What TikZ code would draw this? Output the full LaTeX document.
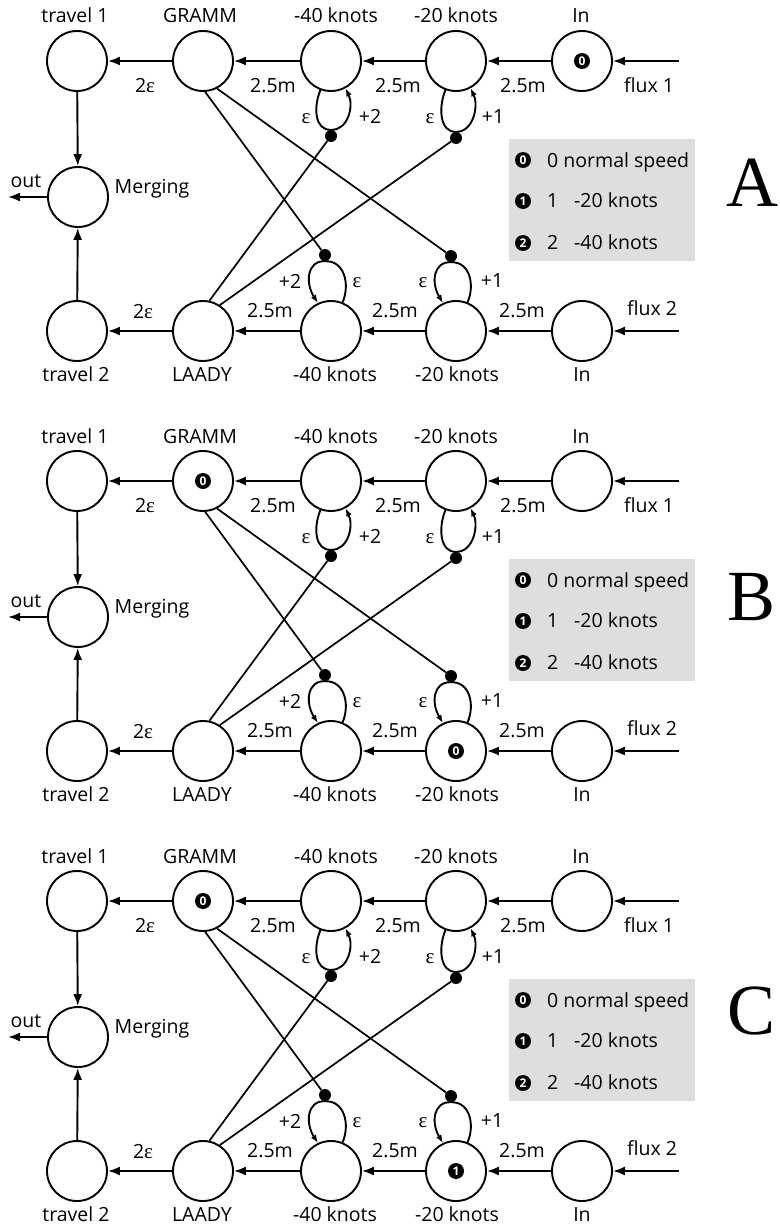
\documentclass[tikz,border=0pt]{standalone}
\usepackage{fontspec}
\setsansfont{Open Sans}
\newfontfamily\grk{Liberation Serif}
\newfontfamily\letterfont{Liberation Serif}
\usetikzlibrary{arrows.meta}
\definecolor{lg}{RGB}{221,222,223}
\newcommand\eps{{\grk\fontsize{21}{21}\selectfont ε}}
\newcommand\panel[3]{%
\begin{scope}[shift={(0,#2)}]
\fill[lg] (509,139) rectangle (695,261);
\node[st] (#1t1) at (77,61) {};
\node[st] (#1gr) at (203,61) {};
\node[st] (#1a40) at (331,61) {};
\node[st] (#1a20) at (456,61) {};
\node[st] (#1in1) at (582,61) {};
\node[st] (#1mg) at (78,197) {};
\node[st] (#1t2) at (77,331) {};
\node[st] (#1la) at (203,331) {};
\node[st] (#1b40) at (331,331) {};
\node[st] (#1b20) at (456,331) {};
\node[st] (#1in2) at (582,331) {};
\coordinate (#1f1) at (679,61);
\coordinate (#1f2) at (679,331);
\coordinate (#1out) at (8,197);
\node[dotn] (#1da) at (331,136) {};
\node[dotn] (#1db) at (456,138) {};
\node[dotn] (#1dc) at (325,255) {};
\node[dotn] (#1dd) at (451,256) {};
% labels
\node[lbl] at (75,23) {travel 1};
\node[lbl] at (200,23) {GRAMM};
\node[lbl] at (336,23) {-40 knots};
\node[lbl] at (456,23) {-20 knots};
\node[lbl] at (581,23) {In};
\node[lbl] at (76,381) {travel 2};
\node[lbl] at (202,381) {LAADY};
\node[lbl] at (335,381) {-40 knots};
\node[lbl] at (457,381) {-20 knots};
\node[lbl] at (582,381) {In};
\node[lbl] at (152,193) {Merging};
\node[lbl] at (26,187) {out};
\node[lbl] at (145,92) {2\eps};
\node[lbl] at (273,92) {2.5m};
\node[lbl] at (398,92) {2.5m};
\node[lbl] at (523,92) {2.5m};
\node[lbl] at (649,92) {flux 1};
\node[lbl] at (143,318) {2\eps};
\node[lbl] at (270,317) {2.5m};
\node[lbl] at (395,317) {2.5m};
\node[lbl] at (522,317) {2.5m};
\node[lbl] at (652,315) {flux 2};
\node[lbl] at (306,123) {\eps};
\node[lbl] at (370,123) {+2};
\node[lbl] at (430,123) {\eps};
\node[lbl] at (493,123) {+1};
\node[lbl] at (290,288) {+2};
\node[lbl] at (357,287) {\eps};
\node[lbl] at (423,287) {\eps};
\node[lbl] at (492,287) {+1};
% row arrows
\draw[arr] (#1f1) -- (#1in1);
\draw[arr] (#1in1) -- (#1a20);
\draw[arr] (#1a20) -- (#1a40);
\draw[arr] (#1a40) -- (#1gr);
\draw[arr] (#1gr) -- (#1t1);
\draw[arr] (#1f2) -- (#1in2);
\draw[arr] (#1in2) -- (#1b20);
\draw[arr] (#1b20) -- (#1b40);
\draw[arr] (#1b40) -- (#1la);
\draw[arr] (#1la) -- (#1t2);
\draw[arr] (#1t1) -- (#1mg);
\draw[arr] (#1t2) -- (#1mg);
\draw[arr] (#1mg) -- (#1out);
% loops
\draw[larr] (#1a40.250) .. controls (313,108) and (315,130.5) .. (#1da.north) .. controls (348,130.5) and (354,106) .. (#1a40.298);
\draw[larr] (#1a20.250) .. controls (438,108) and (440,132.5) .. (#1db.north) .. controls (473,132.5) and (479,106) .. (#1a20.298);
\draw[larr] (#1b40.68) .. controls (350,285) and (345,260.5) .. (#1dc.south) .. controls (307,260.5) and (305,283) .. (#1b40.115);
\draw[larr] (#1b20.68) .. controls (475,285) and (470,261.5) .. (#1dd.south) .. controls (433,261.5) and (431,283) .. (#1b20.115);
% crossing lines
\draw[ln] (#1gr.-86) -- (#1dc);
\draw[ln] (#1gr.-63) -- (#1dd);
\draw[ln] (#1la.78) -- (#1da);
\draw[ln] (#1la.57) -- (#1db);
% legend
\node[badge] (#1k0) at (523,160) {0};
\node[badge] (#1k1) at (523,201) {1};
\node[badge] (#1k2) at (523,243) {2};
\node[lbl,anchor=base west] at (547,167) {0 normal speed};
\node[lbl,anchor=base west] at (547,207) {1};
\node[lbl,anchor=base west] at (574,207) {-20 knots};
\node[lbl,anchor=base west] at (547,249) {2};
\node[lbl,anchor=base west] at (574,249) {-40 knots};
\node[big] (#1L) at (752,#3) {#1};
\end{scope}}
\begin{document}
\begin{tikzpicture}[x=1pt,y=-1pt,
  st/.style={circle,draw,line width=1.9pt,minimum size=60pt,inner sep=0pt},
  lbl/.style={font=\sffamily\fontsize{19.5}{22}\selectfont,inner sep=0pt,anchor=base},
  arr/.style={line width=1.9pt,-{Latex[length=12pt,width=9pt]}},
  larr/.style={line width=1.9pt,-{Latex[length=8pt,width=6pt]}},
  ln/.style={line width=1.7pt},
  dotn/.style={circle,fill=black,inner sep=0pt,minimum size=12pt},
  badge/.style={circle,fill=black,text=white,inner sep=0pt,minimum size=16pt,font=\sffamily\bfseries\fontsize{12}{12}\selectfont},
  big/.style={font=\letterfont\fontsize{72}{72}\selectfont,inner sep=0pt,anchor=base}
]
\useasboundingbox (0,0) rectangle (779,1226);
\panel{A}{0}{206}
\panel{B}{420}{200}
\panel{C}{840}{194}
\node[badge] at (Ain1) {0};
\node[badge] at (Bgr) {0};
\node[badge] at (Bb20) {0};
\node[badge] at (Cgr) {0};
\node[badge] at (Cb20) {1};
\end{tikzpicture}
\end{document}
